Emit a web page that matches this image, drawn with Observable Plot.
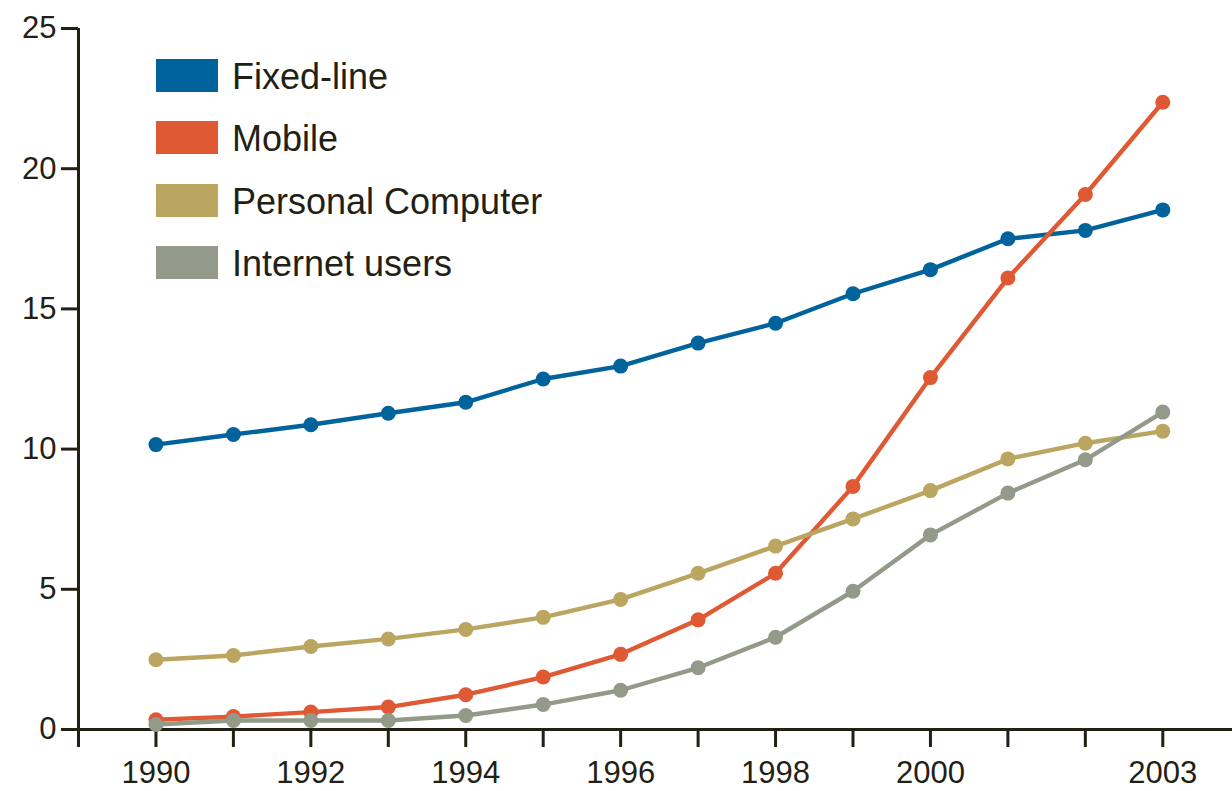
<!DOCTYPE html>
<html>
<head>
<meta charset="utf-8">
<script src="https://cdn.jsdelivr.net/npm/d3@7"></script>
<script src="https://cdn.jsdelivr.net/npm/@observablehq/plot@0.6"></script>
<style>
  html, body { margin: 0; padding: 0; background: #ffffff; }
  #chart { position: relative; width: 1232px; height: 791px; }
  #legend {
    position: absolute; left: 156px; top: 59px;
    font-family: "Liberation Sans", Arial, sans-serif; font-size: 36px; color: #231f14;
  }
  .row { display: flex; align-items: center; height: 33px; margin-bottom: 29.3px; }
  .swatch { width: 62px; height: 33px; margin-right: 14px; }
  .row span { padding-top: 3px; white-space: nowrap; }
</style>
</head>
<body>
<div id="chart"></div>
<script>
// Years on the horizontal axis
const years = [1990, 1991, 1992, 1993, 1994, 1995, 1996, 1997, 1998, 1999, 2000, 2001, 2002, 2003];

// Series values per year
const fixedLine = [10.16, 10.52, 10.87, 11.28, 11.67, 12.5, 12.96, 13.78, 14.49, 15.54, 16.4, 17.5, 17.8, 18.53];
const mobile    = [0.35, 0.46, 0.62, 0.8, 1.24, 1.87, 2.68, 3.91, 5.57, 8.67, 12.55, 16.1, 19.08, 22.37];
const personalComputer = [2.49, 2.64, 2.96, 3.23, 3.57, 4.0, 4.64, 5.57, 6.54, 7.51, 8.52, 9.65, 10.21, 10.64];
const internetUsers    = [0.18, 0.32, 0.32, 0.32, 0.5, 0.89, 1.4, 2.2, 3.29, 4.93, 6.94, 8.43, 9.62, 11.32];

// Series names and colours, in legend order (also back-to-front drawing order)
const seriesNames  = ["Fixed-line", "Mobile", "Personal Computer", "Internet users"];
const seriesColors = ["#00639c", "#df5a34", "#bba661", "#939a89"];
const seriesValues = [fixedLine, mobile, personalComputer, internetUsers];

// Axis ticks
const yTicks = [0, 5, 10, 15, 20, 25];
const xTicks = [1989, 1990, 1991, 1992, 1993, 1994, 1995, 1996, 1997, 1998, 1999, 2000, 2001, 2002, 2003];
const xLabels = [1990, 1992, 1994, 1996, 1998, 2000, 2003];

const ink = "#231f14";

const seriesMarks = seriesValues.flatMap((values, i) => {
  const rows = years.map((year, j) => ({year, value: values[j]}));
  return [
    Plot.line(rows, {x: "year", y: "value", stroke: seriesColors[i], strokeWidth: 4.4}),
    Plot.dot(rows, {x: "year", y: "value", r: 7.5, fill: seriesColors[i], stroke: "none"})
  ];
});

const chart = Plot.plot({
  width: 1232,
  height: 791,
  marginLeft: 78,
  marginRight: 0,
  marginTop: 28,
  marginBottom: 62,
  x: {domain: [1989, 2003.9], label: null},
  y: {domain: [0, 25], label: null},
  style: {fontFamily: "'Liberation Sans', Arial, sans-serif", fontSize: "31px", color: ink, background: "#ffffff"},
  marks: [
    Plot.axisY({ticks: yTicks, tickSize: 17, tickPadding: 5, strokeWidth: 3, tickFormat: d => String(d), label: null}),
    Plot.axisX({ticks: xTicks, tickSize: 18, tickPadding: 13, strokeWidth: 3,
      tickFormat: d => xLabels.includes(d) ? String(d) : "", label: null}),
    Plot.ruleX([1989], {y1: 0, y2: 25, stroke: ink, strokeWidth: 3}),
    Plot.ruleY([0], {stroke: ink, strokeWidth: 3}),
    ...seriesMarks
  ]
});

const container = document.getElementById("chart");
container.appendChild(chart);

// Legend laid over the upper-left of the plot area
const legend = document.createElement("div");
legend.id = "legend";
seriesNames.forEach((name, i) => {
  const row = document.createElement("div");
  row.className = "row";
  const sw = document.createElement("div");
  sw.className = "swatch";
  sw.style.background = seriesColors[i];
  const label = document.createElement("span");
  label.textContent = name;
  row.appendChild(sw);
  row.appendChild(label);
  legend.appendChild(row);
});
container.appendChild(legend);
</script>
</body>
</html>
